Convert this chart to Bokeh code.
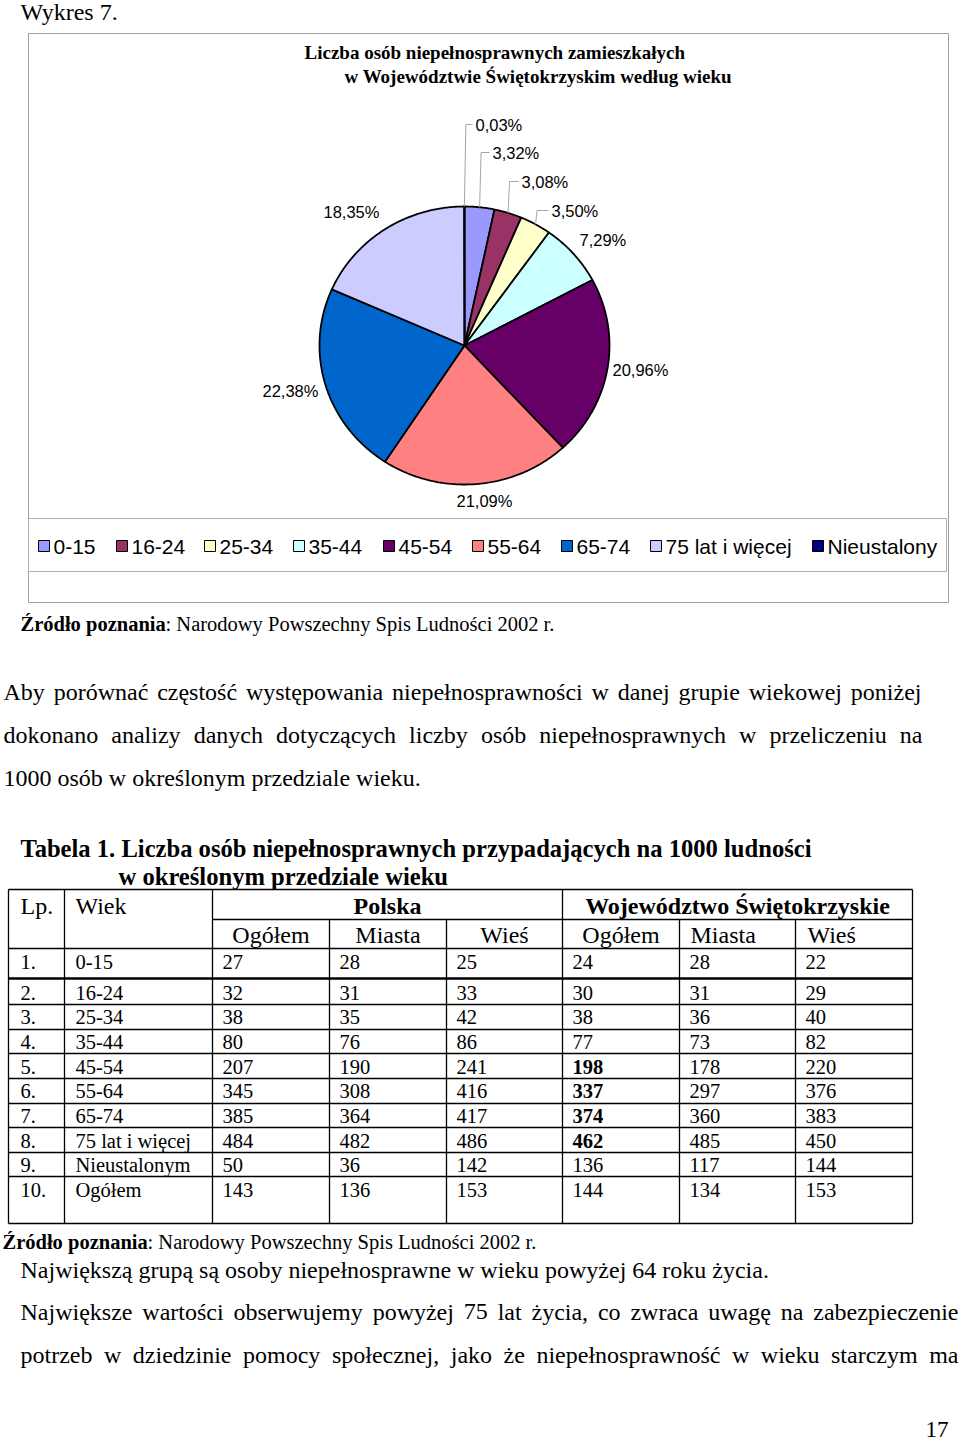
import math
import unicodedata
from bokeh.plotting import figure
from bokeh.models import Range1d, ColumnDataSource
from bokeh.core.properties import value
from bokeh.embed import file_html
from bokeh.resources import INLINE

# ---------------- data ----------------
age_groups = ["0-15", "16-24", "25-34", "35-44", "45-54", "55-64", "65-74",
              "75 lat i więcej", "Nieustalony"]
pie_shares = [3.32, 3.08, 3.50, 7.29, 20.96, 21.09, 22.38, 18.35, 0.03]
pie_colors = ["#9999FF", "#993366", "#FFFFCC", "#CCFFFF", "#660066",
              "#FF8080", "#0066CC", "#CCCCFF", "#000080"]

table_lp = ["1.", "2.", "3.", "4.", "5.", "6.", "7.", "8.", "9.", "10."]
table_wiek = ["0-15", "16-24", "25-34", "35-44", "45-54", "55-64", "65-74",
              "75 lat i więcej", "Nieustalonym", "Ogółem"]
pl_ogolem = [27, 32, 38, 80, 207, 345, 385, 484, 50, 143]
pl_miasta = [28, 31, 35, 76, 190, 308, 364, 482, 36, 136]
pl_wies = [25, 33, 42, 86, 241, 416, 417, 486, 142, 153]
sw_ogolem = [24, 30, 38, 77, 198, 337, 374, 462, 136, 144]
sw_miasta = [28, 31, 36, 73, 178, 297, 360, 485, 117, 134]
sw_wies = [22, 29, 40, 82, 220, 376, 383, 450, 144, 153]
sw_ogolem_bold = [False, False, False, False, True, True, True, True, False, False]

# ---------------- layout ----------------
SERIF = "Liberation Serif"
SANS = "Liberation Sans"

p = figure(width=960, height=1444, x_range=Range1d(0, 960), y_range=Range1d(1444, 0),
           output_backend="svg", toolbar_location=None, x_axis_type=None,
           y_axis_type=None, min_border=0)
p.outline_line_color = None
p.background_fill_color = "white"
p.border_fill_color = "white"


def txt(xs, ys, texts, size, font=SERIF, style="normal", align="left",
        baseline="middle", color="black"):
    p.text(x=xs, y=ys, text=texts, text_font=value(font), text_font_size=value(size),
           text_font_style=style, text_align=align, text_baseline=baseline,
           text_color=color)


# Times New Roman widths (1/1000 em) for justification
TW = {' ': 250, 'a': 444, 'b': 500, 'c': 444, 'd': 500, 'e': 444, 'f': 333, 'g': 500,
      'h': 500, 'i': 278, 'j': 278, 'k': 500, 'l': 278, 'm': 778, 'n': 500, 'o': 500,
      'p': 500, 'q': 500, 'r': 333, 's': 389, 't': 278, 'u': 500, 'v': 500, 'w': 722,
      'x': 500, 'y': 500, 'z': 444, '.': 250, ',': 250, ':': 278, '-': 333,
      'A': 722, 'N': 722, 'P': 556, 'S': 556, 'L': 611, 'ł': 278}


def tw(s, size):
    tot = 0
    for c in s:
        if c in TW:
            tot += TW[c]
        elif c.isdigit():
            tot += 500
        else:
            b = unicodedata.normalize("NFD", c)[0]
            tot += TW.get(b, 500)
    return tot * size / 1000.0


def justify(line, x0, x1, y, size):
    words = line.split(" ")
    widths = [tw(w, size) for w in words]
    gap = (x1 - x0 - sum(widths)) / (len(words) - 1)
    xs = []
    x = x0
    for w in widths:
        xs.append(x)
        x += w + gap
    txt(xs, [y] * len(words), words, f"{size}px")


# ---------------- page texts ----------------
txt([20], [11], ["Wykres 7."], "24px")

# chart frame
p.quad(left=[28], right=[948], top=[33], bottom=[602], fill_color=None,
       line_color="#A0A0A0", line_width=1)
txt([304], [52], ["Liczba osób niepełnosprawnych zamieszkałych"], "19px", style="bold")
txt([344], [76], ["w Województwie Świętokrzyskim według wieku"], "19px", style="bold")

# ---------------- pie ----------------
cx, cy, rx, ry = 464, 345, 145, 139
xs_p, ys_p, mids = [], [], []
cum = 0.0
for s in pie_shares:
    a0 = 2 * math.pi * cum / 100
    a1 = 2 * math.pi * (cum + s) / 100
    n = max(2, int(abs(a1 - a0) / 0.01))
    px = [cx] + [cx + rx * math.sin(a0 + (a1 - a0) * k / n) for k in range(n + 1)]
    py = [cy] + [cy - ry * math.cos(a0 + (a1 - a0) * k / n) for k in range(n + 1)]
    xs_p.append(px)
    ys_p.append(py)
    mids.append((a0 + a1) / 2)
    cum += s
src = ColumnDataSource(dict(xs=xs_p, ys=ys_p, color=pie_colors))
p.patches("xs", "ys", source=src, fill_color="color", line_color="black", line_width=1.8)

# pie labels (layout positions)
lab_left = [492, 521, 551, 579, 612, 456, 262, 323, 475]
lab_y = [152, 181, 210, 239, 369, 500, 390, 211, 124]
lab_text = [f"{v:.2f}".replace(".", ",") + "%" for v in pie_shares]
txt(lab_left, lab_y, lab_text, "16.5px", font=SANS)

# leader lines for small slices
for i in [0, 1, 2, 8]:
    a = mids[i]
    ex = cx + rx * math.sin(a)
    ey = cy - ry * math.cos(a)
    elbow = ex + 1.5
    p.line([ex, elbow, lab_left[i] - 3], [ey, lab_y[i], lab_y[i]],
           line_color="#A6A6A6", line_width=1)

# legend
p.quad(left=[28], right=[946], top=[518], bottom=[571], fill_color=None,
       line_color="#B0B0B0", line_width=1)
leg_sq = [38, 116, 204, 293, 383, 472, 561, 650, 812]
p.quad(left=leg_sq, right=[v + 11 for v in leg_sq], top=[540] * 9, bottom=[551] * 9,
       fill_color=pie_colors, line_color="black", line_width=1)
txt([v + 15 for v in leg_sq], [546] * 9, age_groups, "21px", font=SANS)

# source 1
txt([20], [623], ["Źródło poznania"], "20.5px", style="bold")
txt([165], [623], [": Narodowy Powszechny Spis Ludności 2002 r."], "20.5px")

# paragraph 1
justify("Aby porównać częstość występowania niepełnosprawności w danej grupie wiekowej poniżej",
        3, 921, 691, 24)
justify("dokonano analizy danych dotyczących liczby osób niepełnosprawnych w przeliczeniu na",
        3, 922, 734, 24)
txt([3], [777], ["1000 osób w określonym przedziale wieku."], "24px")

# table title
txt([20], [848], ["Tabela 1. Liczba osób niepełnosprawnych przypadających na 1000 ludności"],
    "24.6px", style="bold")
txt([118], [876], ["w określonym przedziale wieku"], "24.6px", style="bold")

# ---------------- table ----------------
col_x = [8, 64, 212, 329, 446, 562, 679, 795, 912]
row_y = [948, 978, 1004, 1029, 1053, 1078, 1103, 1127, 1152, 1176, 1223]
top_y, sub_y = 889, 919

seg = dict(x0=[], y0=[], x1=[], y1=[])


def s(x0, y0, x1, y1):
    seg["x0"].append(x0); seg["y0"].append(y0); seg["x1"].append(x1); seg["y1"].append(y1)


s(8, top_y, 912, top_y)
s(212, sub_y, 912, sub_y)
for y in row_y:
    if y != 978:
        s(8, y, 912, y)
for x in [8, 64, 212, 562, 912]:
    s(x, top_y, x, row_y[-1])
for x in [329, 446, 679, 795]:
    s(x, sub_y, x, row_y[-1])
p.segment(x0="x0", y0="y0", x1="x1", y1="y1", source=ColumnDataSource(seg),
          line_color="black", line_width=1.3)
p.segment(x0=[8], y0=[978], x1=[912], y1=[978], line_color="black", line_width=2.4)

# header
txt([20, 75], [905, 905], ["Lp.", "Wiek"], "24px")
txt([387, 737], [905, 905], ["Polska", "Województwo Świętokrzyskie"], "24px",
    style="bold", align="center")
txt([270.5, 387.5, 504, 620.5], [934] * 4, ["Ogółem", "Miasta", "Wieś", "Ogółem"],
    "24px", align="center")
txt([690, 807], [934, 934], ["Miasta", "Wieś"], "24px")

# body
base = [961, 992, 1016, 1041, 1066, 1090, 1115, 1140, 1164, 1189]
txt([20] * 10, base, table_lp, "20.5px")
txt([75] * 10, base, table_wiek, "20.5px")
cols = [pl_ogolem, pl_miasta, pl_wies, sw_ogolem, sw_miasta, sw_wies]
for ci, vals in enumerate(cols):
    x = col_x[2 + ci] + 10
    if ci == 3:
        nb = [i for i in range(10) if not sw_ogolem_bold[i]]
        bb = [i for i in range(10) if sw_ogolem_bold[i]]
        txt([x] * len(nb), [base[i] for i in nb], [str(vals[i]) for i in nb], "20.5px")
        txt([x] * len(bb), [base[i] for i in bb], [str(vals[i]) for i in bb], "20.5px",
            style="bold")
    else:
        txt([x] * 10, base, [str(v) for v in vals], "20.5px")

# source 2
txt([2], [1241], ["Źródło poznania"], "20.5px", style="bold")
txt([147], [1241], [": Narodowy Powszechny Spis Ludności 2002 r."], "20.5px")

# paragraph 2
txt([20], [1269], ["Największą grupą są osoby niepełnosprawne w wieku powyżej 64 roku życia."],
    "24px")
justify("Największe wartości obserwujemy powyżej 75 lat życia, co zwraca uwagę na zabezpieczenie",
        20, 958, 1311, 24)
justify("potrzeb w dziedzinie pomocy społecznej, jako że niepełnosprawność w wieku starczym ma",
        20, 958, 1354, 24)

txt([948], [1429], ["17"], "23px", align="right")

open("out.html", "w").write(file_html(p, INLINE))
